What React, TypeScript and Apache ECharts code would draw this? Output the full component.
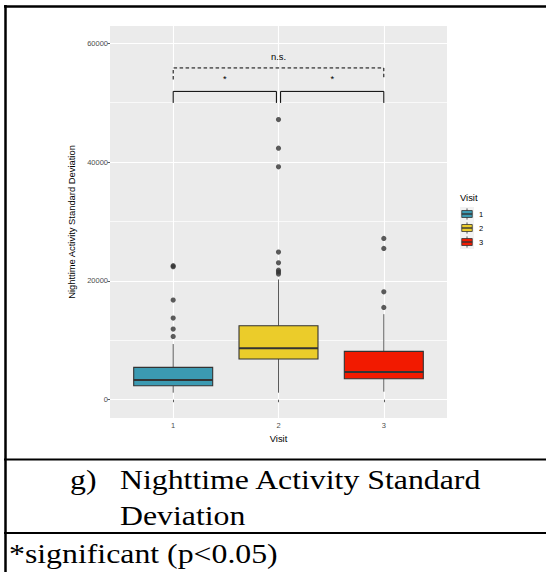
import React, { useEffect, useRef } from "react";
import * as echarts from "echarts";

const categories = ["1", "2", "3"];
const boxLow = [1180, 1180, 1350];
const boxQ1 = [2350, 6850, 3530];
const boxMedian = [3310, 8650, 4660];
const boxQ3 = [5450, 12450, 8140];
const boxHigh = [9370, 20250, 14400];
const boxColors = ["#3B9AB2", "#EBCC2A", "#F21A00"];
const outliers1 = [10660, 11900, 13740, 16770, 22400, 22550];
const outliers2 = [21150, 21500, 21800, 23050, 24850, 39200, 42340, 47160];
const outliers3 = [15540, 18170, 25470, 27150];
const yTicks = [0, 20000, 40000, 60000];
const yMinorTicks = [10000, 30000, 50000];
const xTicks = [1, 2, 3];
const sigFrom = [1, 2.02, 1];
const sigTo = [1.98, 3, 3];
const sigTop = [51900, 51900, 55850];
const sigLeg = [49960, 49960, 53900];
const sigLabels = ["*", "*", "n.s."];
const sigLabelY = [54100, 54100, 57800];
const sigDashed = [0, 0, 1];
const yTitle = "Nighttime Activity Standard Deviation";
const xTitle = "Visit";
const legendTitle = "Visit";
const captionMarker = "g)";
const captionLine1 = "Nighttime Activity Standard";
const captionLine2 = "Deviation";
const captionNote = "*significant (p<0.05)";

const SANS = "'Liberation Sans', Arial, Helvetica, sans-serif";
const SERIF = "'Liberation Serif', 'Times New Roman', serif";
const CAP_SCALE = 1.136;

export default function App() {
  const ref = useRef<HTMLDivElement>(null);
  useEffect(() => {
    if (!ref.current) return;
    const chart = echarts.init(ref.current, undefined, { renderer: "svg" });
    const outlierLists = [outliers1, outliers2, outliers3];
    const outlierData: number[][] = [];
    outlierLists.forEach((list, i) => list.forEach((v) => outlierData.push([i + 1, v])));
    const boxData = categories.map((c, i) => [i + 1, boxLow[i], boxQ1[i], boxMedian[i], boxQ3[i], boxHigh[i]]);
    const sigData = sigLabels.map((l, i) => [sigFrom[i], sigTo[i], sigTop[i], sigLeg[i], sigLabelY[i], sigDashed[i], i]);

    const legendGraphics: any[] = [];
    legendGraphics.push({
      type: "text",
      x: 460,
      y: 197,
      style: { text: legendTitle, fontSize: 9.4, fill: "#000", fontFamily: SANS, verticalAlign: "middle", align: "left" },
    });
    categories.forEach((c, i) => {
      const top = 207 + i * 14;
      legendGraphics.push({
        type: "group",
        x: 460,
        y: top,
        children: [
          { type: "rect", shape: { x: 0, y: 0, width: 14, height: 14 }, style: { fill: "#F2F2F2" } },
          { type: "line", shape: { x1: 7, y1: 1.4, x2: 7, y2: 12.6 }, style: { stroke: "#333", lineWidth: 0.8 } },
          { type: "rect", shape: { x: 1.75, y: 3.5, width: 10.5, height: 7 }, style: { fill: boxColors[i], stroke: "#333", lineWidth: 0.8 } },
          { type: "line", shape: { x1: 1.75, y1: 7, x2: 12.25, y2: 7 }, style: { stroke: "#333", lineWidth: 1.4 } },
        ],
      });
      legendGraphics.push({
        type: "text",
        x: 479,
        y: top + 7,
        style: { text: c, fontSize: 7.5, fill: "#000", fontFamily: SANS, verticalAlign: "middle", align: "left" },
      });
    });

    const capText = (text: string, x: number, y: number) => ({
      type: "text",
      x,
      y,
      scaleX: CAP_SCALE,
      style: { text, fontSize: 28, fontFamily: SERIF, fill: "#000", verticalAlign: "middle", align: "left" },
    });

    const option: any = {
      animation: false,
      backgroundColor: "#fff",
      grid: { left: 110, top: 26, width: 337, height: 392, show: true, backgroundColor: "#EBEBEB", borderWidth: 0 },
      xAxis: {
        type: "value",
        min: 0.4,
        max: 3.6,
        axisLine: { show: false },
        axisTick: { show: true, customValues: xTicks, length: 2.5, lineStyle: { color: "#333", width: 0.8 } },
        axisLabel: {
          customValues: xTicks,
          formatter: (v: number) => categories[Math.round(v) - 1] ?? "",
          color: "#4D4D4D",
          fontSize: 7.5,
          fontFamily: SANS,
          margin: 3,
        },
        splitLine: { show: true, lineStyle: { color: "#FFFFFF", width: 1.1 } },
        name: xTitle,
        nameLocation: "middle",
        nameGap: 12,
        nameTextStyle: { color: "#000", fontSize: 9.4, fontFamily: SANS },
      },
      yAxis: [
        {
          type: "value",
          min: -3080,
          max: 62910,
          axisLine: { show: false },
          axisTick: { show: true, customValues: yTicks, length: 2.5, lineStyle: { color: "#333", width: 0.8 } },
          axisLabel: {
            customValues: yTicks,
            formatter: (v: number) => String(v),
            color: "#4D4D4D",
            fontSize: 7.5,
            fontFamily: SANS,
            margin: 2,
          },
          splitLine: { show: true, lineStyle: { color: "#FFFFFF", width: 1.1 } },
          name: yTitle,
          nameLocation: "middle",
          nameGap: 25,
          nameRotate: 90,
          nameTextStyle: { color: "#000", fontSize: 9.4, fontFamily: SANS },
        },
        {
          type: "value",
          min: -3080,
          max: 62910,
          position: "left",
          axisLine: { show: false },
          axisTick: { show: false, customValues: yMinorTicks },
          axisLabel: { show: false, customValues: yMinorTicks },
          splitLine: { show: true, lineStyle: { color: "#FFFFFF", width: 0.7 } },
        },
      ],
      series: [
        {
          type: "custom",
          name: "box",
          data: boxData,
          encode: { x: 0, y: [1, 2, 3, 4, 5] },
          z: 3,
          renderItem: (params: any, api: any) => {
            const x = api.value(0);
            const lo = api.coord([x, api.value(1)]);
            const q1 = api.coord([x, api.value(2)]);
            const med = api.coord([x, api.value(3)]);
            const q3 = api.coord([x, api.value(4)]);
            const hi = api.coord([x, api.value(5)]);
            const half = api.size([0.75, 0])[0] / 2;
            const cx = lo[0];
            return {
              type: "group",
              children: [
                { type: "line", shape: { x1: cx, y1: q3[1], x2: cx, y2: hi[1] }, style: { stroke: "#5A5A5A", lineWidth: 1 } },
                { type: "line", shape: { x1: cx, y1: q1[1], x2: cx, y2: lo[1] }, style: { stroke: "#5A5A5A", lineWidth: 1 } },
                {
                  type: "rect",
                  shape: { x: cx - half, y: q3[1], width: half * 2, height: q1[1] - q3[1] },
                  style: { fill: boxColors[params.dataIndex], stroke: "#333333", lineWidth: 1.1 },
                },
                { type: "line", shape: { x1: cx - half, y1: med[1], x2: cx + half, y2: med[1] }, style: { stroke: "#333333", lineWidth: 2 } },
              ],
            };
          },
        },
        {
          type: "scatter",
          name: "outliers",
          data: outlierData,
          symbol: "circle",
          symbolSize: 5.2,
          itemStyle: { color: "#333333" },
          z: 4,
        },
        {
          type: "custom",
          name: "significance",
          data: sigData,
          encode: { x: [0, 1], y: [2, 3] },
          z: 5,
          renderItem: (params: any, api: any) => {
            const x1 = api.value(0);
            const x2 = api.value(1);
            const top = api.value(2);
            const leg = api.value(3);
            const ly = api.value(4);
            const dashed = api.value(5) === 1;
            const p1 = api.coord([x1, leg]);
            const p2 = api.coord([x1, top]);
            const p3 = api.coord([x2, top]);
            const p4 = api.coord([x2, leg]);
            const lp = api.coord([(sigFrom[params.dataIndex] + sigTo[params.dataIndex]) / 2, ly]);
            return {
              type: "group",
              children: [
                {
                  type: "polyline",
                  shape: { points: [p1, p2, p3, p4] },
                  style: { stroke: "#000", lineWidth: 1, fill: "none", lineDash: dashed ? [3.5, 2.5] : null },
                },
                {
                  type: "text",
                  x: lp[0],
                  y: lp[1],
                  style: {
                    text: sigLabels[params.dataIndex],
                    fontSize: 9.4,
                    fontFamily: SANS,
                    fill: "#000",
                    align: "center",
                    verticalAlign: "middle",
                  },
                },
              ],
            };
          },
        },
      ],
      graphic: [
        { type: "line", shape: { x1: 4, y1: 6.5, x2: 546, y2: 6.5 }, style: { stroke: "#000", lineWidth: 2.5 } },
        { type: "line", shape: { x1: 5.5, y1: 5, x2: 5.5, y2: 572 }, style: { stroke: "#000", lineWidth: 2.5 } },
        { type: "line", shape: { x1: 4, y1: 459.5, x2: 546, y2: 459.5 }, style: { stroke: "#000", lineWidth: 2 } },
        { type: "line", shape: { x1: 4, y1: 533, x2: 546, y2: 533 }, style: { stroke: "#000", lineWidth: 2 } },
        capText(captionMarker, 70, 479.6),
        capText(captionLine1, 120, 479.6),
        capText(captionLine2, 120, 515),
        capText(captionNote, 9, 553.6),
        ...legendGraphics,
      ],
    };
    chart.setOption(option);
    return () => chart.dispose();
  }, []);
  return <div ref={ref} style={{ position: "absolute", left: 0, top: 0, width: 546, height: 572 }} />;
}
